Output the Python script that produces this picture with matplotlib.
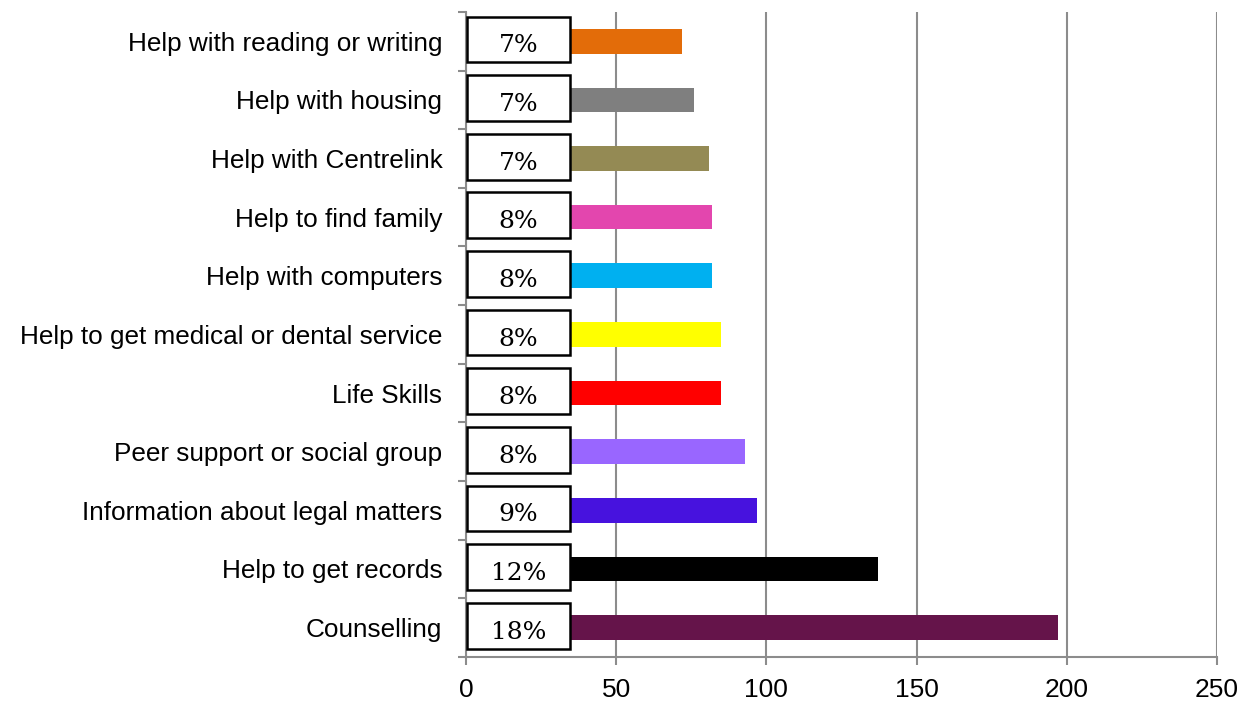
import matplotlib.pyplot as plt
from matplotlib.patches import Rectangle

categories = [
    "Counselling",
    "Help to get records",
    "Information about legal matters",
    "Peer support or social group",
    "Life Skills",
    "Help to get medical or dental service",
    "Help with computers",
    "Help to find family",
    "Help with Centrelink",
    "Help with housing",
    "Help with reading or writing",
]
counts = [197, 137, 97, 93, 85, 85, 82, 82, 81, 76, 72]
percent_labels = ["18%", "12%", "9%", "8%", "8%", "8%", "8%", "8%", "7%", "7%", "7%"]
colors = ["#65144A", "#000000", "#4712DE", "#9966FF", "#FF0000", "#FFFF00",
          "#00B0F0", "#E346AE", "#948A54", "#7F7F7F", "#E36C09"]
x_ticks = [0, 50, 100, 150, 200, 250]

fig = plt.figure(figsize=(12.56, 7.01), dpi=100)
ax = fig.add_axes([0.371, 0.063, 0.598, 0.920])

y = list(range(len(categories)))
ax.barh(y, counts, height=0.42, color=colors, zorder=2)

# white boxes holding the percentages
for i, txt in enumerate(percent_labels):
    ax.add_patch(Rectangle((0.3, i - 0.36), 34.3, 0.78, facecolor="white",
                           edgecolor="black", linewidth=1.8, zorder=3))
    ax.text(17.4, i - 0.08, txt, ha="center", va="center", fontsize=18,
            family="DejaVu Serif", zorder=4)

ax.set_xlim(0, 250)
ax.set_ylim(-0.5, len(categories) - 0.5)
ax.set_xticks(x_ticks)
ax.set_yticks(y)
ax.set_yticklabels(categories, family="Liberation Sans", fontsize=18.8)
ax.set_yticks([i - 0.5 for i in range(len(categories) + 1)], minor=True)
ax.tick_params(axis="y", which="major", length=0, pad=17)
ax.tick_params(axis="y", which="minor", length=6, color="#8C8C8C", width=1.5)
ax.tick_params(axis="x", length=6, color="#8C8C8C", width=1.5, labelsize=19, pad=9)
for lbl in ax.get_xticklabels():
    lbl.set_family("Liberation Sans")

ax.grid(axis="x", color="#8C8C8C", linewidth=1.5, zorder=0)
ax.set_axisbelow(True)
for side in ["top", "right"]:
    ax.spines[side].set_visible(False)
for side in ["left", "bottom"]:
    ax.spines[side].set_color("#8C8C8C")
    ax.spines[side].set_linewidth(1.5)

fig.savefig("out.png", dpi=100)
